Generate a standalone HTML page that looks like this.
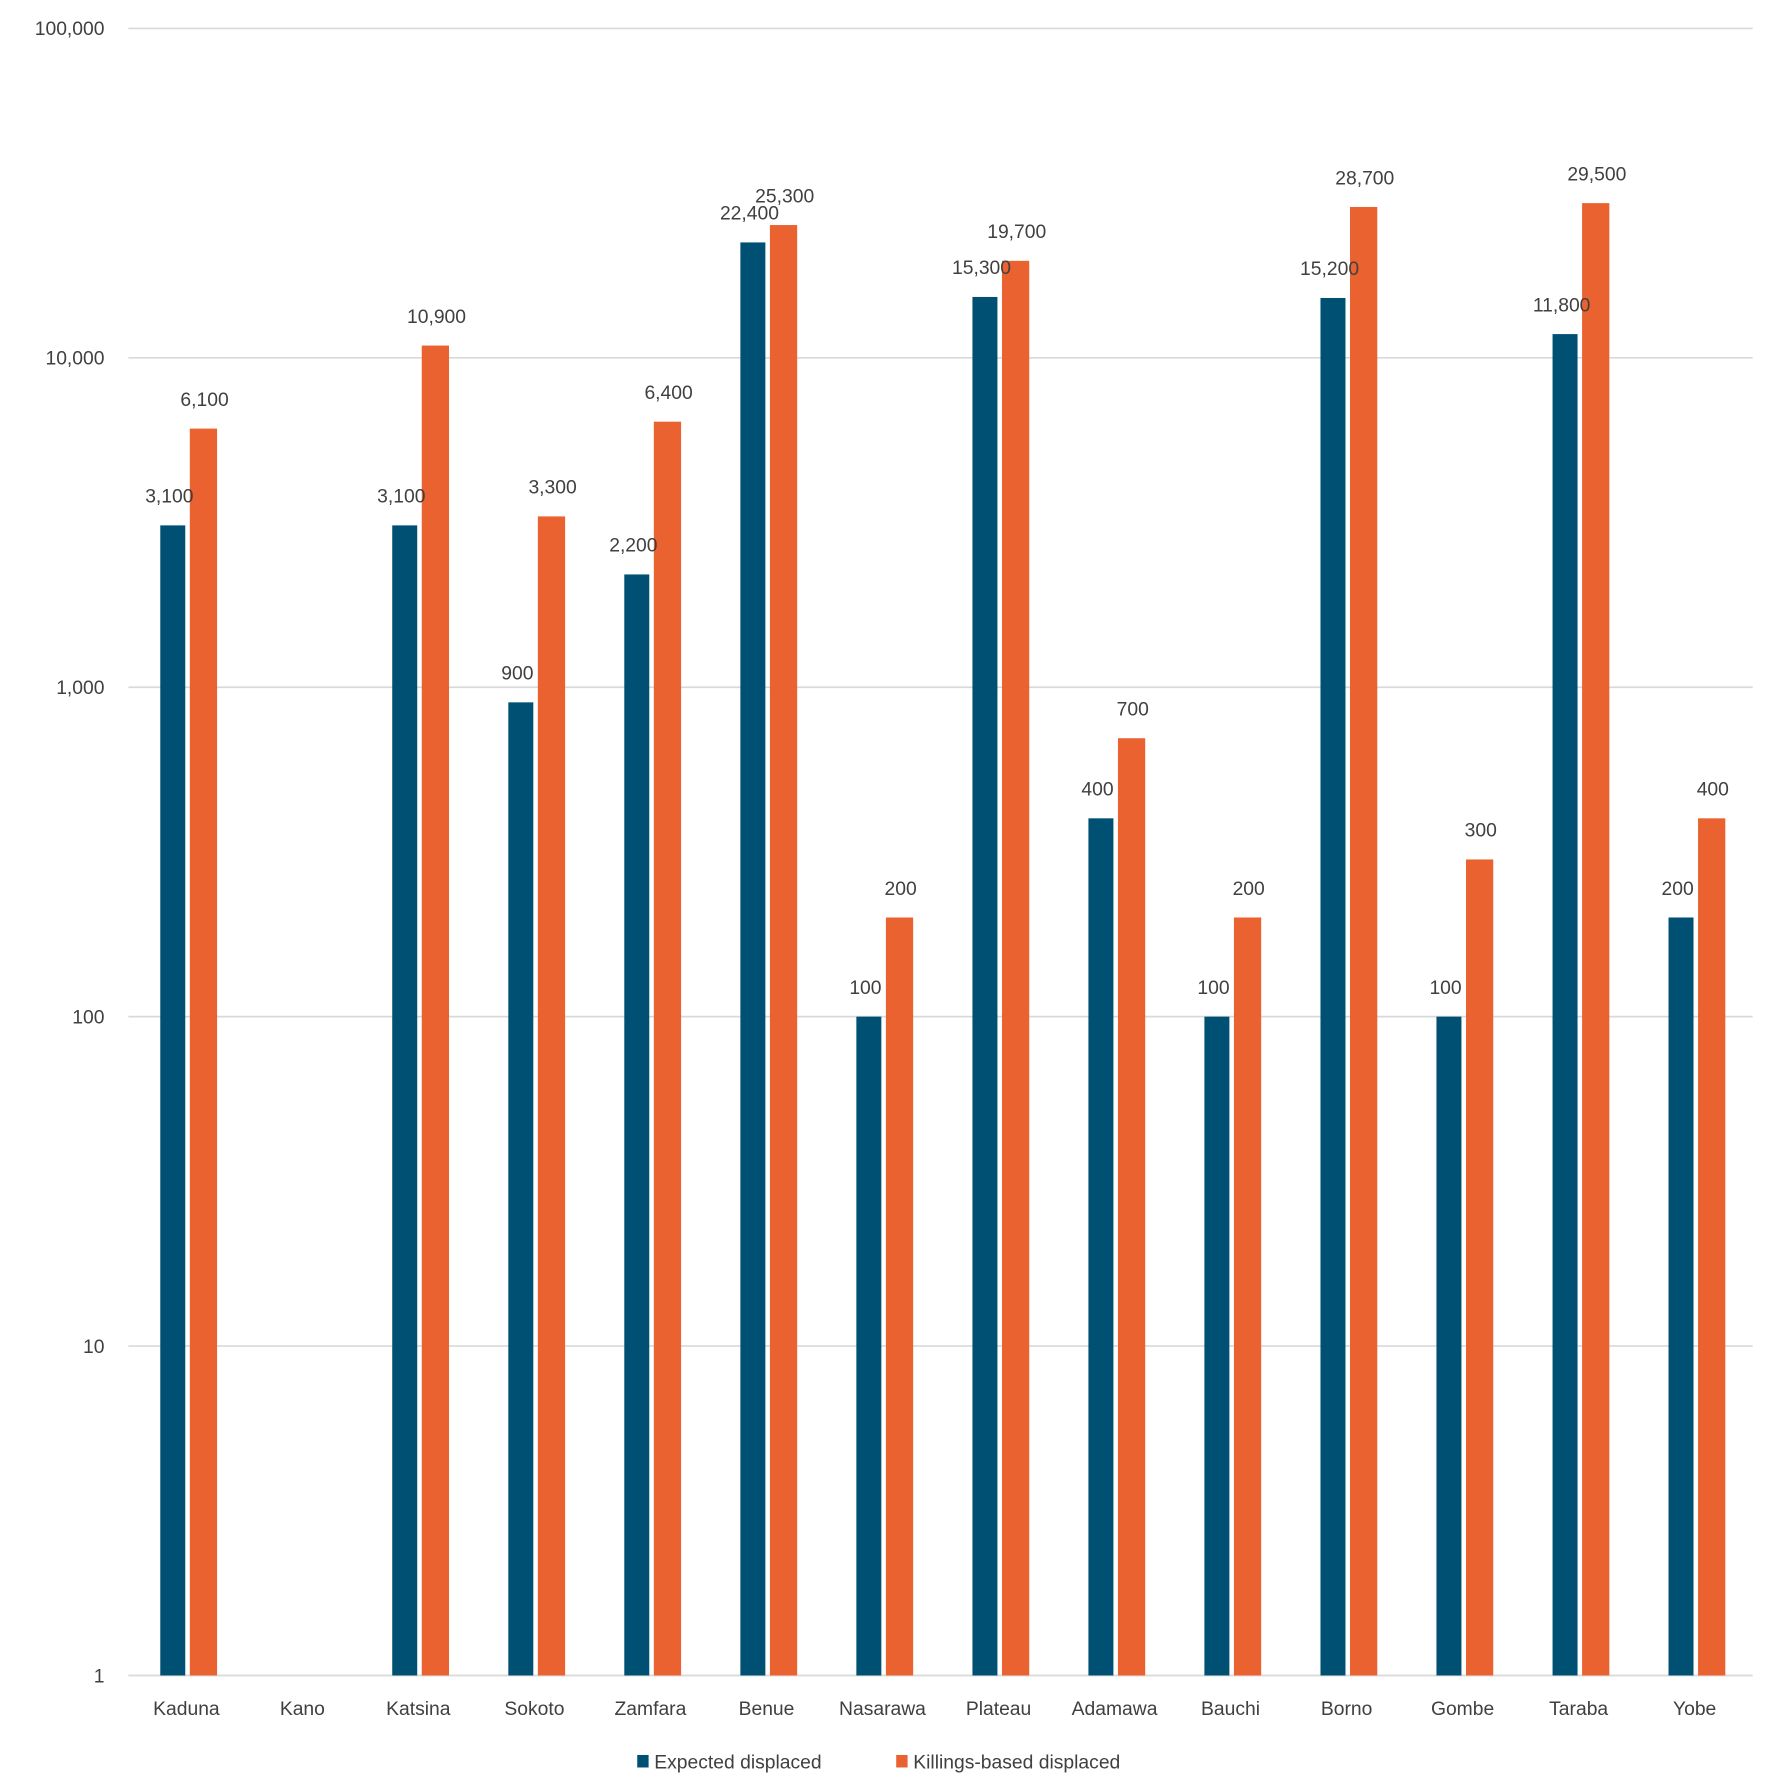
<!DOCTYPE html>
<html><head><meta charset="utf-8"><style>
html,body{margin:0;padding:0;background:#fff;}
svg{display:block;}
text{font-family:"Liberation Sans",sans-serif;fill:#404040;}
</style></head><body>
<svg width="1772" height="1780" viewBox="0 0 1560 1567" xmlns="http://www.w3.org/2000/svg">
<g stroke="#d9d9d9" stroke-width="1.5">
<line x1="113" x2="1543" y1="25" y2="25"/>
<line x1="113" x2="1543" y1="315" y2="315"/>
<line x1="113" x2="1543" y1="605" y2="605"/>
<line x1="113" x2="1543" y1="895" y2="895"/>
<line x1="113" x2="1543" y1="1185" y2="1185"/>
<line x1="113" x2="1543" y1="1475" y2="1475"/>
</g>
<g font-size="17" text-anchor="end">
<text x="92" y="31">100,000</text>
<text x="92" y="321">10,000</text>
<text x="92" y="611">1,000</text>
<text x="92" y="901">100</text>
<text x="92" y="1191">10</text>
<text x="92" y="1481">1</text>
</g>
<g fill="#005073">
<rect x="141.1" y="462.5" width="22" height="1012.5"/>
<rect x="345.3" y="462.5" width="22" height="1012.5"/>
<rect x="447.5" y="618.3" width="22" height="856.7"/>
<rect x="549.6" y="505.7" width="22" height="969.3"/>
<rect x="651.8" y="213.4" width="22" height="1261.6"/>
<rect x="753.9" y="895" width="22" height="580"/>
<rect x="856.1" y="261.4" width="22" height="1213.6"/>
<rect x="958.2" y="720.4" width="22" height="754.6"/>
<rect x="1060.3" y="895" width="22" height="580"/>
<rect x="1162.5" y="262.3" width="22" height="1212.7"/>
<rect x="1264.6" y="895" width="22" height="580"/>
<rect x="1366.8" y="294.1" width="22" height="1180.9"/>
<rect x="1468.9" y="807.7" width="22" height="667.3"/>
</g>
<g fill="#ea6230">
<rect x="167.1" y="377.3" width="24" height="1097.7"/>
<rect x="371.3" y="304.2" width="24" height="1170.8"/>
<rect x="473.5" y="454.6" width="24" height="1020.4"/>
<rect x="575.6" y="371.2" width="24" height="1103.8"/>
<rect x="677.8" y="198.1" width="24" height="1276.9"/>
<rect x="779.9" y="807.7" width="24" height="667.3"/>
<rect x="882.1" y="229.6" width="24" height="1245.4"/>
<rect x="984.2" y="649.9" width="24" height="825.1"/>
<rect x="1086.3" y="807.7" width="24" height="667.3"/>
<rect x="1188.5" y="182.2" width="24" height="1292.8"/>
<rect x="1290.6" y="756.6" width="24" height="718.4"/>
<rect x="1392.8" y="178.8" width="24" height="1296.2"/>
<rect x="1494.9" y="720.4" width="24" height="754.6"/>
</g>
<g font-size="17" text-anchor="middle">
<text x="149.1" y="442.5">3,100</text>
<text x="180.1" y="357.3">6,100</text>
<text x="353.3" y="442.5">3,100</text>
<text x="384.3" y="284.2">10,900</text>
<text x="455.5" y="598.3">900</text>
<text x="486.5" y="434.6">3,300</text>
<text x="557.6" y="485.7">2,200</text>
<text x="588.6" y="351.2">6,400</text>
<text x="659.8" y="193.4">22,400</text>
<text x="690.8" y="178.1">25,300</text>
<text x="761.9" y="875">100</text>
<text x="792.9" y="787.7">200</text>
<text x="864.1" y="241.4">15,300</text>
<text x="895.1" y="209.6">19,700</text>
<text x="966.2" y="700.4">400</text>
<text x="997.2" y="629.9">700</text>
<text x="1068.3" y="875">100</text>
<text x="1099.3" y="787.7">200</text>
<text x="1170.5" y="242.3">15,200</text>
<text x="1201.5" y="162.2">28,700</text>
<text x="1272.6" y="875">100</text>
<text x="1303.6" y="736.6">300</text>
<text x="1374.8" y="274.1">11,800</text>
<text x="1405.8" y="158.8">29,500</text>
<text x="1476.9" y="787.7">200</text>
<text x="1507.9" y="700.4">400</text>
</g>
<g font-size="17" text-anchor="middle">
<text x="164.1" y="1510">Kaduna</text>
<text x="266.2" y="1510">Kano</text>
<text x="368.3" y="1510">Katsina</text>
<text x="470.5" y="1510">Sokoto</text>
<text x="572.6" y="1510">Zamfara</text>
<text x="674.8" y="1510">Benue</text>
<text x="776.9" y="1510">Nasarawa</text>
<text x="879.1" y="1510">Plateau</text>
<text x="981.2" y="1510">Adamawa</text>
<text x="1083.3" y="1510">Bauchi</text>
<text x="1185.5" y="1510">Borno</text>
<text x="1287.6" y="1510">Gombe</text>
<text x="1389.8" y="1510">Taraba</text>
<text x="1491.9" y="1510">Yobe</text>
</g>
<g font-size="17">
<rect x="561" y="1545" width="10" height="11" fill="#005073"/>
<text x="576" y="1557">Expected displaced</text>
<rect x="789" y="1545" width="10" height="11" fill="#ea6230"/>
<text x="804" y="1557">Killings-based displaced</text>
</g>
</svg>
</body></html>
